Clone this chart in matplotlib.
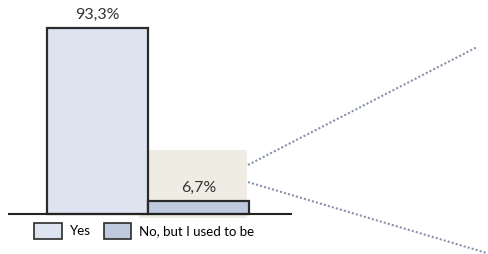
import matplotlib
matplotlib.use("Agg")
import matplotlib.pyplot as plt
from matplotlib.patches import Rectangle

categories = ["Yes", "No, but I used to be"]
values = [93.3, 6.7]
labels = ["93,3%", "6,7%"]
colors = ["#dde4f0", "#bfcadf"]

plt.rcParams['font.family'] = ['Lato', 'DejaVu Sans']

fig = plt.figure(figsize=(4.89, 2.54), dpi=100)
ax = fig.add_axes([0, 0, 1, 1])
ax.set_xlim(-0.965, 3.876)
ax.set_ylim(-20.06, 107.3)
ax.axis('off')

# highlight box behind the small bar
ax.add_patch(Rectangle((0.41, -2), 1.07, 34, facecolor="#efede3", edgecolor="none", zorder=0))

bars = ax.bar(range(len(values)), values, width=1.0, color=colors,
              edgecolor="#2b2b2b", linewidth=1.6, zorder=2)
for i, (v, t) in enumerate(zip(values, labels)):
    ax.text(i, v + 3.0, t, ha='center', va='bottom', fontsize=11.5, color="#333333")

# baseline
ax.plot([-0.88, 1.92], [0, 0], color="#222222", lw=1.5, zorder=3)

# zoom lines
ax.plot([1.49, 3.757], [24.6, 83.7], color="#8a93ab", lw=1.5, ls=(0, (1, 1)), zorder=1)
ax.plot([1.49, 3.856], [16.0, -19.6], color="#8a93ab", lw=1.5, ls=(0, (1, 1)), zorder=1)

leg = ax.legend(bars, categories, ncol=2, loc='center left', bbox_to_anchor=(0.045, 0.09),
                frameon=False, fontsize=9.5, handlelength=2.1, handleheight=1.5,
                columnspacing=1.0, handletextpad=0.6)
for h in leg.legend_handles:
    h.set_edgecolor("#2b2b2b")
    h.set_linewidth(1.2)

fig.savefig("out.png", dpi=100)
